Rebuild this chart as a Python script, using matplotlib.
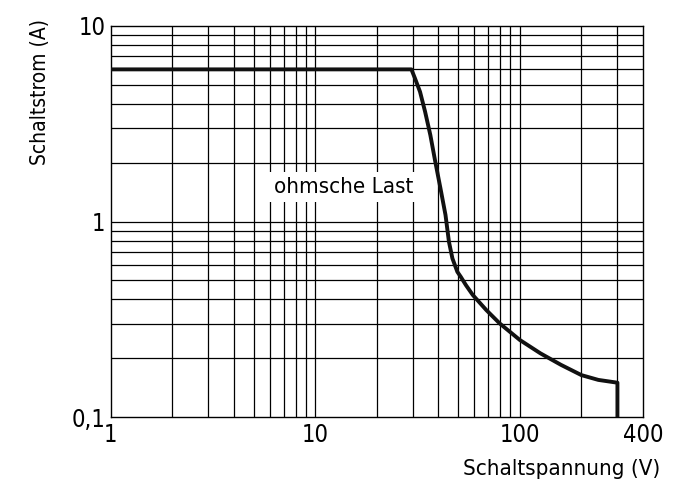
import matplotlib
matplotlib.use("Agg")
import matplotlib.pyplot as plt
from matplotlib.ticker import FixedLocator, NullFormatter

plt.rcParams['font.family'] = ['Liberation Sans Narrow', 'DejaVu Sans']
plt.rcParams['font.stretch'] = 'condensed'

# switching current curve (resistive load)
volts = [1, 29.5, 30.7, 32.5, 34.4, 36.5, 38.6, 40.9, 43.3, 45.0, 46.8, 49.5, 51.4,
         54.5, 58.9, 68.5, 79.8, 100, 126, 159, 200, 242, 300, 300]
amps = [6, 6, 5.40, 4.61, 3.65, 2.77, 2.02, 1.48, 1.08, 0.789, 0.648, 0.553, 0.522,
        0.473, 0.421, 0.353, 0.301, 0.248, 0.212, 0.185, 0.164, 0.155, 0.150, 0.1]

x_ticks = [1, 10, 100, 400]
x_labels = ["1", "10", "100", "400"]
y_ticks = [0.1, 1, 10]
y_labels = ["0,1", "1", "10"]

x_grid = [2, 3, 4, 5, 6, 7, 8, 9, 10, 20, 30, 40, 50, 60, 70, 80, 90, 100, 200, 300]
y_grid = [0.2, 0.3, 0.4, 0.5, 0.6, 0.7, 0.8, 0.9, 1, 2, 3, 4, 5, 6, 7, 8, 9]

fig = plt.figure(figsize=(6.97, 4.96), dpi=100)
ax = fig.add_axes([0.159, 0.159, 0.7635, 0.7886])
ax.set_xscale("log")
ax.set_yscale("log")
ax.set_xlim(1, 400)
ax.set_ylim(0.1, 10)

for v in x_grid:
    ax.axvline(v, color="black", lw=0.9, zorder=1)
for v in y_grid:
    ax.axhline(v, color="black", lw=0.9, zorder=1)

ax.plot(volts, amps, color="#111111", lw=2.8, solid_capstyle="butt",
        solid_joinstyle="round", zorder=3)

ax.text(13.8, 1.5, "ohmsche Last", fontsize=16, ha="center", va="center",
        bbox=dict(facecolor="white", edgecolor="none", pad=3.5), zorder=4)

ax.xaxis.set_major_locator(FixedLocator(x_ticks))
ax.set_xticklabels(x_labels)
ax.xaxis.set_minor_formatter(NullFormatter())
ax.yaxis.set_major_locator(FixedLocator(y_ticks))
ax.set_yticklabels(y_labels)
ax.yaxis.set_minor_formatter(NullFormatter())
ax.tick_params(which="both", length=0, labelsize=17, pad=4)

for s in ax.spines.values():
    s.set_linewidth(1.0)

fig.text(0.947, 0.035, "Schaltspannung (V)", fontsize=16, ha="right", va="bottom")
fig.text(0.057, 0.962, "Schaltstrom (A)", fontsize=15, ha="center", va="top", rotation=90)

fig.savefig("out.png", dpi=100)
